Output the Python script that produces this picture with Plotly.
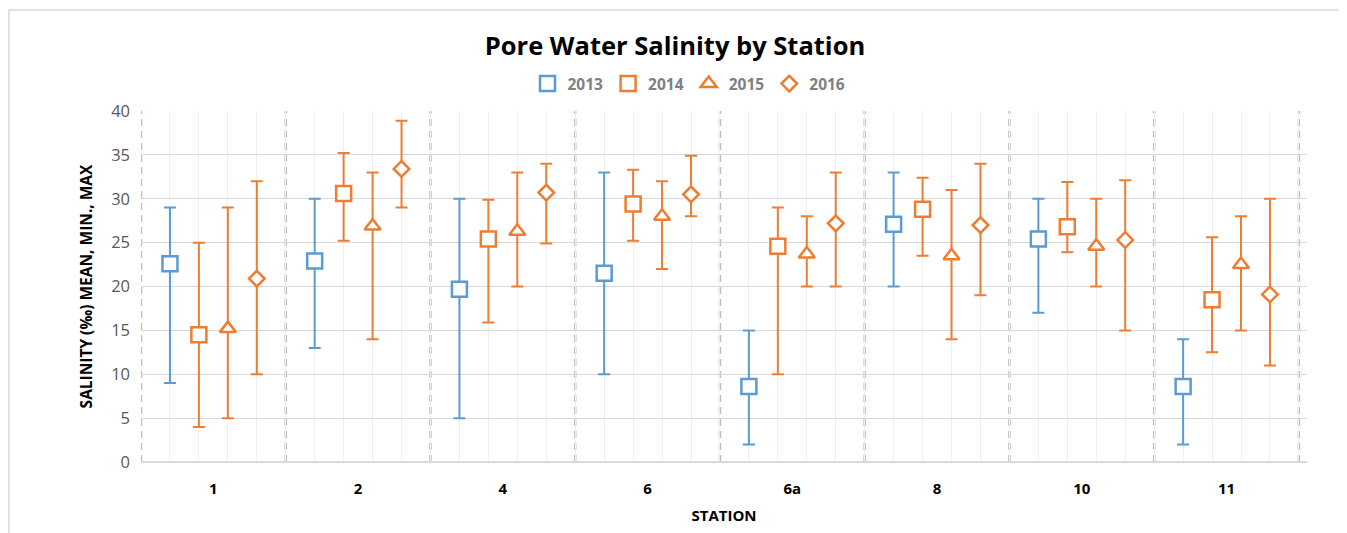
import plotly.graph_objects as go

stations = ["1", "2", "4", "6", "6a", "8", "10", "11"]
years = ["2013", "2014", "2015", "2016"]

mean_2013 = [22.6, 22.9, 19.7, 21.5, 8.6, 27.1, 25.4, 8.6]
min_2013 = [9, 13, 5, 10, 2, 20, 17, 2]
max_2013 = [29, 30, 30, 33, 15, 33, 30, 14]

mean_2014 = [14.5, 30.6, 25.4, 29.4, 24.6, 28.8, 26.8, 18.5]
min_2014 = [4, 25.2, 15.9, 25.2, 10, 23.5, 23.9, 12.5]
max_2014 = [25, 35.2, 29.9, 33.3, 29, 32.4, 31.9, 25.6]

mean_2015 = [15.2, 26.9, 26.3, 28.0, 23.7, 23.5, 24.6, 22.5]
min_2015 = [5, 14, 20, 22, 20, 14, 20, 15]
max_2015 = [29, 33, 33, 32, 28, 31, 30, 28]

mean_2016 = [20.9, 33.4, 30.7, 30.5, 27.2, 27.0, 25.3, 19.1]
min_2016 = [10, 29, 24.9, 28, 20, 19, 15, 11]
max_2016 = [32, 38.9, 34, 34.9, 33, 34, 32.1, 30]

means = [mean_2013, mean_2014, mean_2015, mean_2016]
mins = [min_2013, min_2014, min_2015, min_2016]
maxs = [max_2013, max_2014, max_2015, max_2016]

colors = ["#5B9BD5", "#ED7D31", "#ED7D31", "#ED7D31"]
symbols = ["square", "square", "triangle-up", "diamond"]
sizes = [15, 15, 14, 12]

FONT = "Open Sans, Lato, sans-serif"
W, H = 1339, 525
L, R, T, B = 133, 40, 103, 71
PW, PH = W - L - R, H - T - B

slots = 5
fig = go.Figure()
for j, yr in enumerate(years):
    xs = [slots * i + j + 1 for i in range(len(stations))]
    fig.add_trace(go.Scatter(
        x=xs, y=means[j], mode="markers", name="<b>%s</b>" % yr,
        marker=dict(symbol=symbols[j], size=sizes[j], color="white",
                    line=dict(color=colors[j], width=2.5)),
        error_y=dict(type="data", symmetric=False,
                     array=[mx - m for mx, m in zip(maxs[j], means[j])],
                     arrayminus=[m - mn for m, mn in zip(means[j], mins[j])],
                     color=colors[j], thickness=2, width=6),
    ))

for g in range(len(stations) + 1):
    fig.add_shape(type="line", xref="x", yref="y", x0=slots * g, x1=slots * g,
                  y0=0, y1=40, line=dict(color="#BFBFBF", width=2.5, dash="7px,5px"),
                  layer="below")

# outer chart border
fig.add_shape(type="rect", xref="paper", yref="paper",
              x0=(1 - L) / PW, x1=(W - 1 - L) / PW,
              y0=-0.4, y1=1 + (T - 2) / PH,
              line=dict(color="#D9D9D9", width=1.5), fillcolor="rgba(0,0,0,0)")

fig.update_layout(
    width=W, height=H,
    margin=dict(l=L, r=R, t=T, b=B),
    paper_bgcolor="white", plot_bgcolor="white",
    title=dict(text="<b>Pore Water Salinity by Station</b>", x=(675 - 8 - L) / PW,
               xref="paper", xanchor="center",
               y=1 - 38 / H, yanchor="middle",
               font=dict(family=FONT, size=25.5, color="#000000")),
    legend=dict(orientation="h", x=(689 - 8 - L) / PW, xanchor="center", y=1 + 27 / PH,
                yanchor="middle",
                font=dict(family=FONT, size=15.5, color="#808080"),
                itemwidth=30, tracegroupgap=0),
    showlegend=True,
    xaxis=dict(range=[0, 40.28], tickvals=[slots * i + 2.5 for i in range(len(stations))],
               ticktext=["<b>%s</b>" % s for s in stations], showgrid=False,
               zeroline=False, showline=False, ticks="",
               ticklabelstandoff=16,
               tickfont=dict(family=FONT, size=15, color="#000000"),
               title=dict(text="<b>STATION</b>", font=dict(family=FONT, size=15, color="#000000"),
                          standoff=13),
               minor=dict(dtick=1, tick0=0, showgrid=True, gridcolor="#EFEFEF", gridwidth=1)),
    yaxis=dict(range=[0, 40], dtick=5, showgrid=True, gridcolor="#D9D9D9", gridwidth=1.2,
               zeroline=True, zerolinecolor="#D9D9D9", zerolinewidth=2,
               tickfont=dict(family=FONT, size=16.5, color="#595959"),
               ticklabelstandoff=10,
               title=dict(text="<b>SALINITY (‰) MEAN, MIN., MAX</b>",
                          font=dict(family=FONT, size=15.5, color="#000000"),
                          standoff=14)),
)

fig.write_html("out.html")
